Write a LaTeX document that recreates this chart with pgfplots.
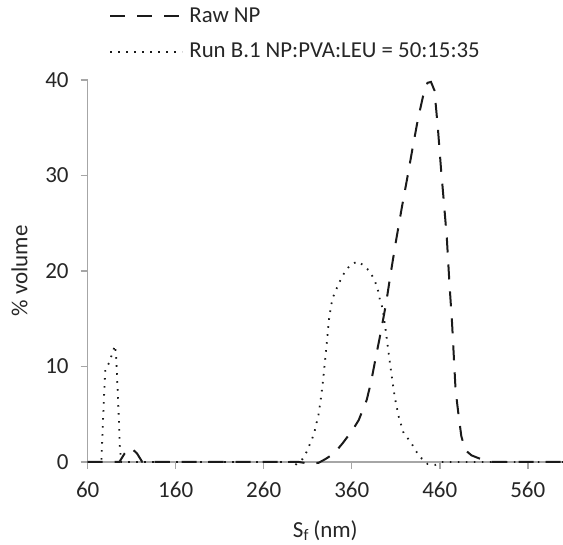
\documentclass[border=0pt]{standalone}
\usepackage{fontspec}
\setmainfont{Carlito}
\usepackage{pgfplots}
\pgfplotsset{compat=1.18}
\definecolor{axisgray}{HTML}{A6A6A6}
\definecolor{txt}{HTML}{262626}
\definecolor{ln}{HTML}{1A1A1A}
\begin{document}
\begin{tikzpicture}
\path[use as bounding box] (-43.85pt,-41.5pt) rectangle (237.65pt,231pt);
\begin{axis}[
  at={(0pt,0pt)}, anchor=south west,
  scale only axis, width=237.65pt, height=191pt,
  xmin=60, xmax=600, ymin=0, ymax=40,
  xtick={60,160,...,560}, ytick={0,10,...,40},
  axis x line=bottom, axis y line=left,
  axis line style={-, draw=axisgray, line width=0.75pt},
  tick style={draw=axisgray, line width=0.75pt},
  tick align=outside, major tick length=3.5pt,
  /pgf/number format/assume math mode=true,
  tick label style={font=\fontsize{11.5}{13}\selectfont, text=txt},
  x tick label style={yshift=-3pt},
  y tick label style={xshift=-2.5pt},
  label style={font=\fontsize{11.5}{13}\selectfont, text=txt},
  xlabel={S\textsubscript{f}\,(nm)},
  ylabel={\%\ volume},
  xlabel style={yshift=-4.5pt},
  ylabel style={yshift=2pt},
  clip=false,
  legend style={draw=none, fill=none, at={(0,1)}, anchor=south west, xshift=7.65pt, yshift=7.5pt,
    nodes={inner sep=0pt, text=txt, font=\fontsize{11.4}{13}\selectfont}, column sep=3pt, row sep=8.8pt, cells={anchor=west}},
  legend image code/.code={\draw[#1] (0pt,0pt) -- (36pt,0pt);},
]
\addplot[ln, line width=1pt, dash pattern=on 7.5pt off 6pt] coordinates {
(60,0) (80,0) (96,0) (102,0.9) (109,1.5) (116,0.9) (122,0) (200,0) (300,0) (310,-0.15) (322,-0.1)
(330,0.3) (340,0.9) (350,2.0) (361,3.35) (368,4.4) (377,6.5) (382,8.4) (387,10.8) (393,13.6)
(399,16.6) (404,19.6) (410,23.0) (417,26.7) (423,29.7) (429,32.8) (435,35.8) (441,38.3)
(446,39.7) (450,39.8) (454,38.9) (458,34.8) (461.5,30.6) (464.5,27.4) (468,23.5) (471,18.7)
(474,14.5) (476,11) (478,7.5) (481.5,4.8) (484.5,2.7) (489,1.25) (496,0.7) (504,0.4) (519,0) (600,0)
};
\addlegendentry{Raw NP}
\addplot[ln, line width=0.9pt, dash pattern=on 0.8pt off 3.2pt] coordinates {
(60,0) (75.5,0) (76.8,3.0) (78.5,6.8) (80,9.7) (84.5,10.4) (88,11.4) (91,12.2) (92.5,10.8)
(94.6,6.4) (96.5,1.7) (98,0) (200,0) (290,0) (296,-0.3) (304,0.3) (309,1.1) (313,2.0) (317,2.9)
(319.5,3.9) (322,4.8) (325,6.7) (327.5,8.6) (329.5,10.5) (332.5,13.3) (334.5,15.2) (338,17.1)
(342,18) (347,19) (351.5,19.8) (358,20.6) (366.5,21) (375,20.5) (381.5,19.8) (386.5,18.9)
(390,17.9) (392,17) (395,16.1) (398,14.2) (400.5,12.4) (403.5,10.3) (406,8.6) (409,6.7)
(413.5,4.7) (419,3.0) (427,2.1) (432.5,1.2) (438,0.5) (446,-0.2) (455,-0.3) (462,0) (600,0)
};
\addlegendentry{Run B.1 NP:PVA:LEU = 50:15:35}
\end{axis}
\end{tikzpicture}
\end{document}
